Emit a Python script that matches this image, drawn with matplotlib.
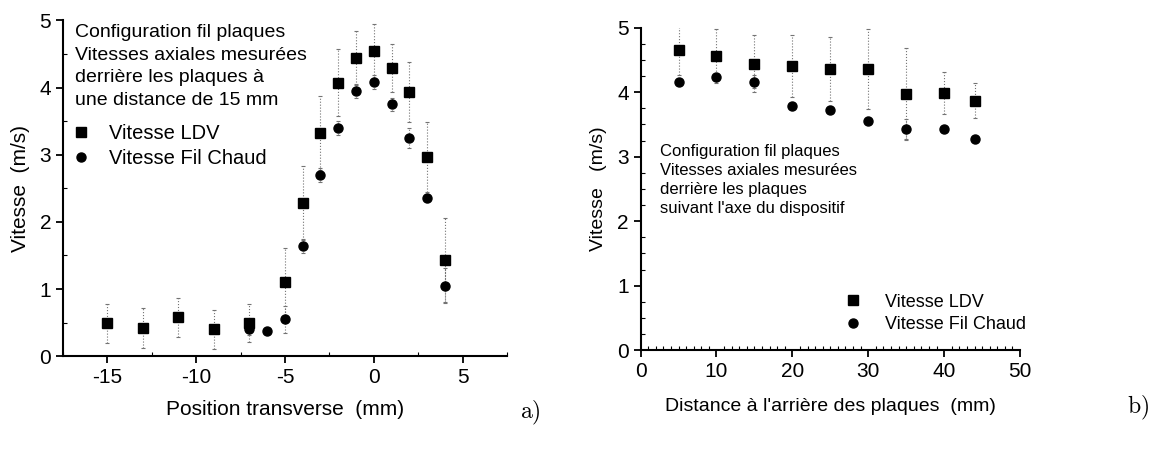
import matplotlib.pyplot as plt
from matplotlib.ticker import MultipleLocator

plt.rcParams['font.family'] = ['Liberation Sans', 'DejaVu Sans']
plt.rcParams['mathtext.fontset'] = 'cm'
plt.rcParams['axes.unicode_minus'] = False

# panel a) : transverse profile, 15 mm behind the plates
pos_a = [-15, -13, -11, -9, -7, -5, -4, -3, -2, -1, 0, 1, 2, 3, 4]
ldv_a = [0.49, 0.42, 0.58, 0.40, 0.49, 1.11, 2.28, 3.32, 4.07, 4.44, 4.54, 4.29, 3.93, 2.97, 1.43]
ldv_a_err = [0.29, 0.30, 0.29, 0.29, 0.28, 0.50, 0.55, 0.55, 0.50, 0.40, 0.40, 0.36, 0.45, 0.52, 0.62]
pos_a_hw = [-15, -13, -11, -9, -7, -6, -5, -4, -3, -2, -1, 0, 1, 2, 3, 4]
hw_a = [0.49, 0.42, 0.58, 0.40, 0.41, 0.38, 0.55, 1.64, 2.70, 3.40, 3.95, 4.08, 3.75, 3.25, 2.36, 1.05]
hw_a_err = [0.05, 0.05, 0.05, 0.05, 0.10, 0.03, 0.20, 0.10, 0.10, 0.10, 0.10, 0.10, 0.10, 0.15, 0.06, 0.26]

# panel b) : along the axis behind the plates
dist_b = [5, 10, 15, 20, 25, 30, 35, 40, 44]
ldv_b = [4.65, 4.56, 4.44, 4.41, 4.36, 4.36, 3.97, 3.99, 3.87]
ldv_b_err = [0.38, 0.42, 0.44, 0.48, 0.50, 0.62, 0.71, 0.33, 0.27]
hw_b = [4.16, 4.23, 4.16, 3.79, 3.73, 3.56, 3.43, 3.43, 3.27]
hw_b_err = [0.05, 0.05, 0.10, 0.05, 0.05, 0.05, 0.15, 0.05, 0.05]

note_a = ("Configuration fil plaques\nVitesses axiales mesurées\n"
          "derrière les plaques à\nune distance de 15 mm")
note_b = ("Configuration fil plaques\nVitesses axiales mesurées\n"
          "derrière les plaques\nsuivant l'axe du dispositif")

fig = plt.figure(figsize=(11.5, 4.62), dpi=100)
ax1 = fig.add_axes([0.0548, 0.229, 0.386, 0.727])
ax2 = fig.add_axes([0.557, 0.242, 0.330, 0.698])

err_style = dict(fmt='none', ecolor='0.45', elinewidth=0.8, capsize=1.5,
                 capthick=0.8)


def draw(ax, x_ldv, y_ldv, e_ldv, x_hw, y_hw, e_hw):
    eb = ax.errorbar(x_ldv, y_ldv, yerr=e_ldv, **err_style)
    eb[-1][0].set_linestyle(':')
    eb = ax.errorbar(x_hw, y_hw, yerr=e_hw, **err_style)
    eb[-1][0].set_linestyle(':')
    ax.plot(x_ldv, y_ldv, 's', color='black', markersize=6.5, label='Vitesse LDV')
    ax.plot(x_hw, y_hw, 'o', color='black', markersize=6.5, label='Vitesse Fil Chaud')
    for side in ('top', 'right'):
        ax.spines[side].set_visible(False)
    for side in ('left', 'bottom'):
        ax.spines[side].set_linewidth(1.5)
    ax.tick_params(which='major', direction='out', length=5, width=1.3, labelsize=15)
    ax.tick_params(which='minor', direction='in', length=3, width=0.8)
    ax.set_ylim(0, 5)
    ax.yaxis.set_major_locator(MultipleLocator(1))


draw(ax1, pos_a, ldv_a, ldv_a_err, pos_a_hw, hw_a, hw_a_err)
ax1.set_xlim(-17.5, 7.5)
ax1.xaxis.set_major_locator(MultipleLocator(5))
ax1.xaxis.set_minor_locator(MultipleLocator(2.5))
ax1.yaxis.set_minor_locator(MultipleLocator(0.5))
ax1.set_xlabel('Position transverse  (mm)', fontsize=15, labelpad=9)
ax1.set_ylabel('Vitesse  (m/s)', fontsize=15, labelpad=7)
ax1.text(0.027, 0.99, note_a, transform=ax1.transAxes, fontsize=14,
         va='top', ha='left', linespacing=1.45)
ax1.legend(loc='upper left', bbox_to_anchor=(0.0, 0.715), frameon=False,
           fontsize=14.5, handlelength=1.0, handletextpad=0.9,
           labelspacing=0.3, borderaxespad=0)

draw(ax2, dist_b, ldv_b, ldv_b_err, dist_b, hw_b, hw_b_err)
ax2.set_xlim(0, 50)
ax2.xaxis.set_major_locator(MultipleLocator(10))
ax2.xaxis.set_minor_locator(MultipleLocator(1))
ax2.yaxis.set_minor_locator(MultipleLocator(0.25))
ax2.set_xlabel("Distance à l'arrière des plaques  (mm)", fontsize=14, labelpad=12)
ax2.set_ylabel('Vitesse   (m/s)', fontsize=14, labelpad=7.5)
ax2.text(0.05, 0.64, note_b, transform=ax2.transAxes, fontsize=12,
         va='top', ha='left', linespacing=1.35)
ax2.legend(loc='upper left', bbox_to_anchor=(0.516, 0.198), frameon=False,
           fontsize=13, handlelength=1.0, handletextpad=1.3,
           labelspacing=0.3, borderaxespad=0)

fig.text(0.452, 0.095, r'$\mathrm{a)}$', fontsize=17)
fig.text(0.98, 0.105, r'$\mathrm{b)}$', fontsize=17)

fig.savefig('out.png', dpi=100)
